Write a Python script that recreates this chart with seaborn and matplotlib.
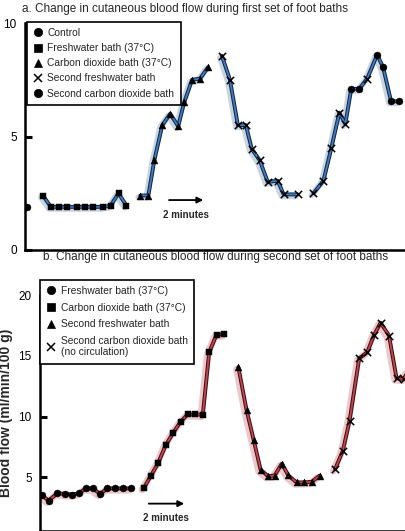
import matplotlib
matplotlib.use("Agg")
import matplotlib.pyplot as plt
import matplotlib.patheffects as pe
from matplotlib.lines import Line2D
import seaborn as sns
import pandas as pd

sns.set_style("white")
plt.rcParams['font.family'] = ['Liberation Sans', 'DejaVu Sans']

# ---------------- Panel a data (time in minutes, blood flow) ----------------
a_control_t = [0.0]
a_control_v = [1.9]
a_fresh_t = [0.8, 1.2, 1.6, 2.0, 2.5, 2.9, 3.3, 3.8, 4.2, 4.6, 5.0]
a_fresh_v = [2.4, 1.9, 1.9, 1.9, 1.9, 1.9, 1.9, 1.9, 1.95, 2.5, 1.95]
a_co2_t = [5.7, 6.1, 6.4, 6.8, 7.2, 7.6, 7.9, 8.3, 8.7, 9.1]
a_co2_v = [2.4, 2.4, 3.95, 5.5, 6.0, 5.45, 6.5, 7.5, 7.55, 8.05]
a_fresh2_t = [9.8, 10.2, 10.6, 11.0, 11.3, 11.7, 12.1, 12.6, 12.9, 13.6]
a_fresh2_v = [8.55, 7.5, 5.5, 5.5, 4.45, 3.95, 3.0, 3.05, 2.45, 2.45]
a_co2b_t = [14.4, 14.9, 15.3, 15.7, 16.0, 16.3, 16.7, 17.1, 17.6, 17.9, 18.3, 18.7]
a_co2b_v = [2.5, 3.05, 4.5, 6.05, 5.55, 7.1, 7.1, 7.55, 8.6, 8.05, 6.55, 6.55]

a_labels = ["Control", "Freshwater bath (37°C)", "Carbon dioxide bath (37°C)",
            "Second freshwater bath", "Second carbon dioxide bath"]
a_yticks = [0, 5, 10]

# ---------------- Panel b data ----------------
b_fresh_t = [0.08, 0.43, 0.87, 1.26, 1.62, 1.96, 2.28, 2.64, 3.01, 3.37, 3.77, 4.15, 4.54]
b_fresh_v = [3.55, 3.1, 3.7, 3.65, 3.6, 3.7, 4.1, 4.1, 3.65, 4.1, 4.1, 4.1, 4.1]
b_co2_t = [5.19, 5.53, 5.9, 6.29, 6.66, 7.03, 7.38, 7.76, 8.14, 8.46, 8.83, 9.22]
b_co2_v = [4.14, 5.1, 6.16, 7.67, 8.67, 9.58, 10.18, 10.19, 10.15, 15.29, 16.75, 16.76]
b_fresh2_t = [9.92, 10.33, 10.69, 11.03, 11.4, 11.73, 12.09, 12.42, 12.83, 13.2, 13.59, 13.98]
b_fresh2_v = [14.05, 10.53, 8.04, 5.64, 5.11, 5.16, 6.13, 5.17, 4.59, 4.6, 4.64, 5.15]
b_co2b_t = [14.75, 15.14, 15.48, 15.96, 16.36, 16.7, 17.03, 17.45, 17.83, 18.2, 18.55]
b_co2b_v = [5.67, 7.18, 9.67, 14.79, 15.29, 16.7, 17.72, 16.67, 13.15, 13.11, 14.25]

b_labels = ["Freshwater bath (37°C)", "Carbon dioxide bath (37°C)",
            "Second freshwater bath", "Second carbon dioxide bath\n(no circulation)"]
b_yticks = [5, 10, 15, 20]

title_a = "a. Change in cutaneous blood flow during first set of foot baths"
title_b = "b. Change in cutaneous blood flow during second set of foot baths"
ylabel_b = "Blood flow (ml/min/100 g)"
arrow_text = "2 minutes"

# ---------------- Figure ----------------
fig = plt.figure(figsize=(4.05, 5.31), dpi=100)
ax1 = fig.add_axes([25/405, 1 - 250/531, 380/405, 227/531])
ax2 = fig.add_axes([40/405, 0.0, 365/405, 236/531])

def tube(halo, dark, hw):
    return [pe.SimpleLineShadow(offset=(-1.3, -1.3), shadow_color=halo, alpha=0.9, linewidth=hw),
            pe.Stroke(linewidth=2.8, foreground=dark),
            pe.Normal()]

def draw_series(ax, t, v, marker, color, halo, dark, hw, markers=None):
    df = pd.DataFrame({"t": t, "v": v})
    if len(t) > 1:
        sns.lineplot(data=df, x="t", y="v", ax=ax, color=color, lw=1.3,
                     path_effects=tube(halo, dark, hw), legend=False, zorder=2)
    if markers is None:
        markers = [marker] * len(t)
    for m in set(markers):
        sub = df[[mm == m for mm in markers]]
        kw = dict(s=25, color="black", zorder=4, legend=False, ax=ax, marker=m)
        if m == "x":
            kw.update(linewidth=1.1, s=28)
        else:
            kw.update(edgecolor="black", linewidth=0.3)
        sns.scatterplot(data=sub, x="t", y="v", **kw)

blue, blue_halo, blue_dark = "#3b7cc4", "#c3d0de", "#16263d"
red, red_halo, red_dark = "#c8404c", "#ecc2c6", "#3a1418"

# Panel a
draw_series(ax1, a_control_t, a_control_v, "o", blue, blue_halo, blue_dark, 4.5)
draw_series(ax1, a_fresh_t, a_fresh_v, "s", blue, blue_halo, blue_dark, 4.5)
draw_series(ax1, a_co2_t, a_co2_v, "^", blue, blue_halo, blue_dark, 4.5)
draw_series(ax1, a_fresh2_t, a_fresh2_v, "x", blue, blue_halo, blue_dark, 4.5)
draw_series(ax1, a_co2b_t, a_co2b_v, "o", blue, blue_halo, blue_dark, 4.5,
            markers=["x", "x", "x", "x", "x", "o", "o", "x", "o", "o", "o", "o"])

# Panel b
draw_series(ax2, b_fresh_t, b_fresh_v, "o", red, red_halo, red_dark, 5)
draw_series(ax2, b_co2_t, b_co2_v, "s", red, red_halo, red_dark, 5)
draw_series(ax2, b_fresh2_t, b_fresh2_v, "^", red, red_halo, red_dark, 5)
draw_series(ax2, b_co2b_t, b_co2b_v, "x", red, red_halo, red_dark, 5)

for ax in (ax1, ax2):
    sns.despine(ax=ax)
    ax.spines["left"].set_linewidth(1.8)
    ax.spines["bottom"].set_linewidth(1.8)
    ax.spines["left"].set_color("black")
    ax.spines["bottom"].set_color("black")
    ax.set_xticks([])
    ax.set_xlabel("")
    ax.set_ylabel("")
    ax.tick_params(axis="y", direction="in", length=5, width=2.2, labelsize=8.5,
                   left=True, pad=6, colors="black")
    ax.set_facecolor("none")

ax1.set_xlim(-0.1, 19.0)
ax1.set_ylim(0, 10)
ax1.set_yticks(a_yticks)
ax2.set_xlim(0, 18.25)
ax2.set_ylim(0.6, 20)
ax2.set_yticks(b_yticks)
ax2.set_ylabel(ylabel_b, fontsize=10, fontweight="bold", labelpad=4)

# legends
def handles(markers):
    return [Line2D([], [], ls="none", marker=m, color="black", markersize=6,
                   markeredgewidth=1.1 if m == "x" else 0.5) for m in markers]

leg1 = ax1.legend(handles(["o", "s", "^", "x", "o"]), a_labels, loc="upper left",
                  bbox_to_anchor=(0.005, 1.005), borderaxespad=0, fontsize=7.4,
                  handlelength=1.0, handletextpad=0.4, labelspacing=0.5,
                  frameon=True, fancybox=False, edgecolor="black", framealpha=1,
                  borderpad=0.6)
leg1.get_frame().set_linewidth(1.2)

leg2 = ax2.legend(handles(["o", "s", "^", "x"]), b_labels, loc="upper left",
                  bbox_to_anchor=(0.0, 1.065), borderaxespad=0, fontsize=7.4,
                  handlelength=1.0, handletextpad=0.4, labelspacing=0.65,
                  frameon=True, fancybox=False, edgecolor="black", framealpha=1,
                  borderpad=0.6)
leg2.get_frame().set_linewidth(1.2)

# 2 minute arrows
ax1.annotate("", xy=(9.0, 2.2), xytext=(7.0, 2.2),
             arrowprops=dict(arrowstyle="-|>", color="black", lw=1.3, mutation_scale=9))
ax1.text(8.0, 1.55, arrow_text, ha="center", va="center", fontsize=7, fontweight="bold")
ax2.annotate("", xy=(7.35, 2.85), xytext=(5.3, 2.85),
             arrowprops=dict(arrowstyle="-|>", color="black", lw=1.3, mutation_scale=9))
ax2.text(6.3, 1.7, arrow_text, ha="center", va="center", fontsize=7, fontweight="bold")

# titles
fig.text(22/405, 1 - 9/531, title_a, fontsize=8.5, ha="left", va="center")
fig.text(43/405, 1 - 257/531, title_b, fontsize=8.5, ha="left", va="center")

fig.savefig("out.png", dpi=100, facecolor="white")
